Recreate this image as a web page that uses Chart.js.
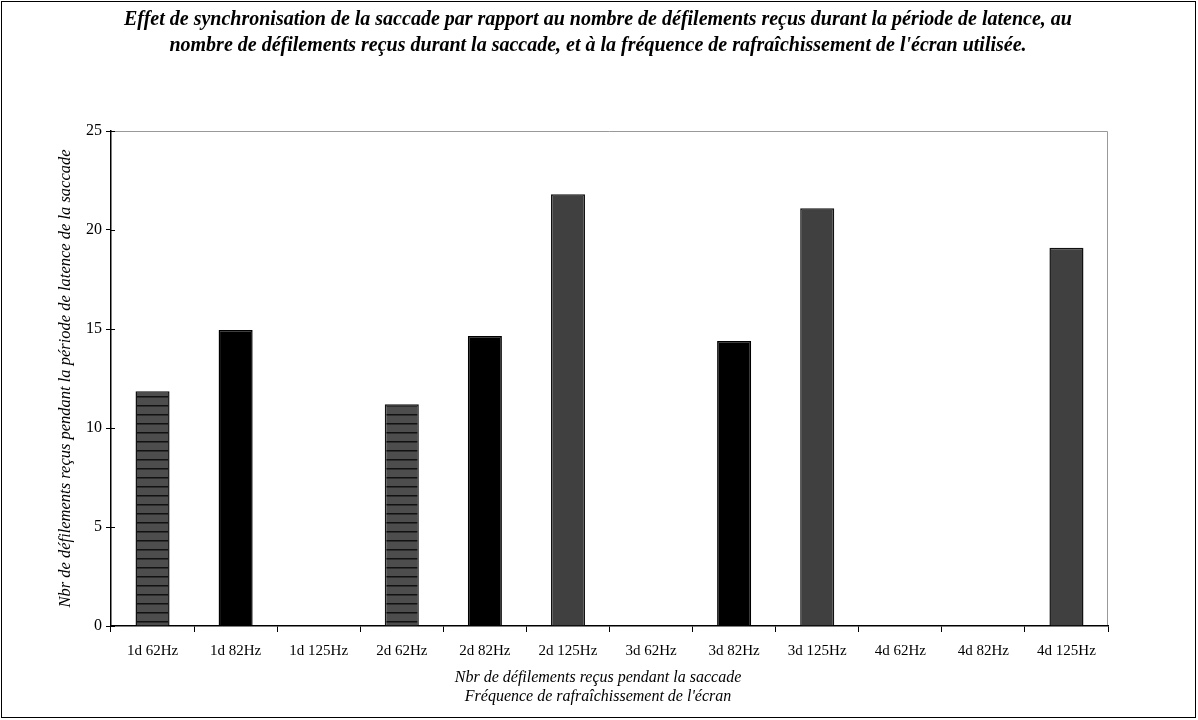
<!DOCTYPE html>
<html>
<head>
<meta charset="utf-8">
<script src="https://cdn.jsdelivr.net/npm/chart.js@4"></script>
<style>
  html, body { margin: 0; padding: 0; background: #fff; }
  #wrap { position: absolute; left: 0; top: 0; width: 1198px; height: 720px; }
</style>
</head>
<body>
<div id="wrap"><canvas id="c" width="1198" height="720"></canvas></div>
<script>
// Effet de synchronisation de la saccade — histogramme par condition
const categories = ["1d 62Hz", "1d 82Hz", "1d 125Hz", "2d 62Hz", "2d 82Hz", "2d 125Hz",
                    "3d 62Hz", "3d 82Hz", "3d 125Hz", "4d 62Hz", "4d 82Hz", "4d 125Hz"];
const frequencies = ["62", "82", "125", "62", "82", "125", "62", "82", "125", "62", "82", "125"];
const values = [11.85, 14.95, null, 11.2, 14.65, 21.8, null, 14.4, 21.1, null, null, 19.1];
const yTicks = [0, 5, 10, 15, 20, 25];

const titleLines = [
  "Effet de synchronisation de la saccade par rapport au nombre de défilements reçus durant la période de latence, au",
  "nombre de défilements reçus durant la saccade, et à la fréquence de rafraîchissement de l'écran utilisée.",
];
const xTitle = ["Nbr de défilements reçus pendant la saccade", "Fréquence de rafraîchissement de l'écran"];
const yTitle = "Nbr de défilements reçus pendant la période de latence de la saccade";

const SERIF = "'Liberation Serif', 'Times New Roman', serif";

// motif rayé horizontal pour 62Hz
const stripes = (() => {
  const p = document.createElement("canvas");
  p.width = 8; p.height = 9;
  const g = p.getContext("2d");
  g.fillStyle = "#4d4d4d"; g.fillRect(0, 0, 8, 9);
  g.fillStyle = "#111"; g.fillRect(0, 0, 8, 1.5);
  return document.getElementById("c").getContext("2d").createPattern(p, "repeat");
})();

const fillFor = (f) => f === "62" ? stripes : f === "82" ? "#000" : "#404040";
const borderFor = (f) => f === "82" ? "#000" : "#111";

const frame = {
  id: "frame",
  beforeDraw(chart) {
    const { ctx, chartArea: a } = chart;
    ctx.save();
    ctx.strokeStyle = "#000"; ctx.lineWidth = 1;
    ctx.strokeRect(1.5, 1.5, 1194, 716);
    ctx.strokeStyle = "#999";
    ctx.beginPath();
    ctx.moveTo(a.left, a.top + 0.5); ctx.lineTo(a.right - 0.5, a.top + 0.5);
    ctx.lineTo(a.right - 0.5, a.bottom);
    ctx.stroke();
    // titre + titre de l'axe x (centrés sur la page)
    ctx.fillStyle = "#000"; ctx.textAlign = "center"; ctx.textBaseline = "middle";
    ctx.font = "italic bold 20px " + SERIF;
    titleLines.forEach((t, i) => ctx.fillText(t, 598, 20 + i * 26));
    ctx.font = "italic 16px " + SERIF;
    xTitle.forEach((t, i) => ctx.fillText(t, 598, 678 + i * 19));
    ctx.restore();
  },
  afterDraw(chart) {
    const { ctx, chartArea: a, scales } = chart;
    ctx.save();
    ctx.strokeStyle = "#000"; ctx.lineWidth = 1;
    yTicks.forEach((v) => {
      const y = Math.round(scales.y.getPixelForValue(v)) + 0.5;
      ctx.beginPath(); ctx.moveTo(a.left, y); ctx.lineTo(a.left + 4, y); ctx.stroke();
    });
    ctx.restore();
  },
};

new Chart(document.getElementById("c"), {
  type: "bar",
  data: {
    labels: categories,
    datasets: [{
      data: values,
      backgroundColor: frequencies.map(fillFor),
      borderColor: frequencies.map(borderFor),
      borderWidth: 1.5,
      categoryPercentage: 1,
      barPercentage: 0.41,
    }],
  },
  options: {
    responsive: false, animation: false, devicePixelRatio: 1,
    layout: { padding: { left: 0, right: 90, top: 131, bottom: 8 } },
    plugins: { legend: { display: false }, tooltip: { enabled: false }, title: { display: false } },
    scales: {
      x: {
        afterFit: (s) => { s.height = 86; },
        border: { color: "#000", width: 1.5 },
        grid: { offset: true, drawOnChartArea: false, drawTicks: true, tickLength: 6, color: "#000" },
        ticks: { color: "#000", font: { family: SERIF, size: 15 }, padding: 10, maxRotation: 0 },
        title: { display: false },
      },
      y: {
        min: 0, max: 25,
        afterFit: (s) => { s.width = 111; },
        afterBuildTicks: (s) => { s.ticks = yTicks.map((v) => ({ value: v })); },
        border: { color: "#000", width: 1.5 },
        grid: { drawOnChartArea: false, drawTicks: true, tickLength: 5, color: "#000" },
        ticks: { color: "#000", font: { family: SERIF, size: 16 }, padding: 4 },
        title: { display: true, text: yTitle, color: "#000", padding: { top: 56, bottom: 0 },
                 font: { family: SERIF, size: 16.5, style: "italic" } },
      },
    },
  },
  plugins: [frame],
});
</script>
</body>
</html>
